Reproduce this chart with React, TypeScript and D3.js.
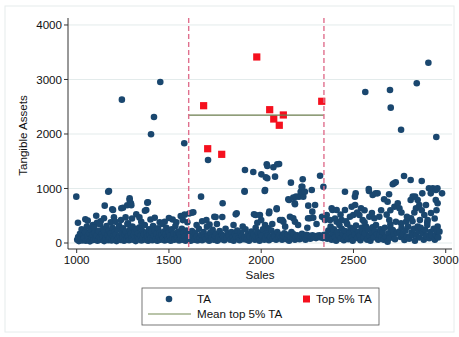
import * as d3 from "d3";
import React from "react";

// TA scatter: [sales, tangible assets]
const taPoints: [number, number][] = [
  // high outliers
  [1245, 2630], [1453, 2954], [1419, 2312], [1403, 1994], [1583, 1829], [1712, 1523],
  [2564, 2771], [2698, 2807], [2702, 2483], [2843, 2930], [2906, 3308], [2758, 2079], [2949, 1945],
  // 1000-1600 upper
  [998, 850], [1171, 941], [1175, 954], [1152, 685], [1193, 618], [1197, 605], [1242, 637], [1251, 648],
  [1287, 789], [1287, 820], [1274, 692], [1296, 692], [1294, 728], [1386, 747], [1383, 740], [1377, 606], [1370, 593],
  // 1000-1600 mid
  [1007, 372], [1047, 435], [1088, 330], [1106, 501], [1148, 453], [1202, 472], [1278, 361], [1323, 526],
  [1423, 464], [1477, 391], [1060, 410], [1130, 400], [1185, 380], [1240, 420], [1300, 450], [1350, 390],
  [1400, 430], [1450, 380], [1520, 430], [1564, 495], [1575, 420], [1540, 380], [1110, 370], [1210, 390],
  [1265, 470], [1340, 470], [1500, 460], [1600, 380], [1585, 520], [1610, 540],
  // 1000-1600 base
  [1003, 60], [1008, 110], [1012, 35], [1018, 170], [1022, 80], [1027, 250], [1031, 45], [1036, 130], [1040, 90],
  [1046, 200], [1050, 40], [1055, 300], [1058, 120], [1063, 70], [1068, 180], [1072, 30], [1077, 240], [1081, 100],
  [1086, 150], [1090, 55], [1095, 280], [1099, 190], [1104, 75], [1108, 130], [1113, 40], [1117, 220], [1122, 95],
  [1126, 340], [1131, 60], [1135, 160], [1140, 110], [1144, 260], [1149, 35], [1153, 190], [1158, 85], [1162, 310],
  [1167, 140], [1171, 50], [1176, 230], [1180, 100], [1185, 170], [1189, 45], [1194, 280], [1198, 120], [1203, 65],
  [1207, 200], [1212, 150], [1216, 35], [1221, 250], [1225, 90], [1230, 320], [1234, 130], [1239, 55], [1243, 190],
  [1248, 100], [1252, 270], [1257, 40], [1261, 160], [1266, 210], [1270, 80], [1275, 350], [1279, 120], [1284, 50],
  [1288, 240], [1293, 170], [1297, 90], [1302, 300], [1306, 60], [1311, 140], [1315, 200], [1320, 35], [1324, 260],
  [1329, 110], [1333, 180], [1338, 70], [1342, 290], [1347, 130], [1351, 45], [1356, 220], [1360, 100], [1365, 160],
  [1369, 330], [1374, 60], [1378, 190], [1383, 120], [1387, 40], [1392, 250], [1396, 150], [1401, 85], [1405, 200],
  [1410, 50], [1414, 310], [1419, 130], [1423, 230], [1428, 70], [1432, 170], [1437, 40], [1441, 270], [1446, 110],
  [1450, 190], [1455, 60], [1459, 140], [1464, 350], [1468, 90], [1473, 210], [1477, 45], [1482, 160], [1486, 280],
  [1491, 100], [1495, 60], [1500, 200], [1505, 130], [1510, 40], [1515, 250], [1520, 95], [1525, 170], [1530, 60],
  [1535, 310], [1540, 140], [1545, 80], [1550, 210], [1555, 45], [1560, 160], [1565, 100], [1570, 260], [1575, 60],
  [1580, 190], [1585, 120], [1590, 40], [1595, 230], [1600, 90],
  // 1600-2350 upper and mid
  [1632, 563], [1623, 556], [1674, 850], [1703, 422], [1746, 483], [1753, 477], [1789, 477], [1791, 728],
  [1862, 526], [1867, 545], [1970, 514], [1961, 526], [1979, 372], [1970, 281], [1993, 514], [2021, 330],
  [2039, 270], [2042, 545], [2044, 575], [2084, 618], [2084, 637], [2102, 422], [2114, 422], [2120, 391],
  [2147, 802], [2151, 789], [2156, 483], [2174, 453], [2174, 832], [2182, 728], [2183, 391], [2183, 710],
  [2189, 850], [2205, 850], [2228, 850], [2219, 1033], [2214, 941], [2223, 1033], [2237, 941], [2255, 685],
  [2263, 453], [2277, 575], [2282, 464], [2292, 697], [2254, 453], [2274, 972], [2161, 1107], [2225, 1169],
  [2319, 1235], [2337, 1033], [1910, 954], [1910, 941], [2019, 954], [2021, 972], [1912, 1339], [1957, 1303],
  [2001, 1260], [2030, 1444], [2066, 1389], [2087, 1444], [2033, 1413], [2097, 1450], [2033, 1187], [2075, 1217],
  [2025, 1205], [1720, 340], [1680, 400], [1850, 330], [1900, 300], [1760, 350], [1650, 330], [2000, 420],
  [2060, 350], [2130, 300], [2200, 330], [2250, 280], [2300, 350], [2330, 480],
  // 1600-2350 base
  [1605, 70], [1612, 150], [1618, 40], [1625, 220], [1630, 100], [1637, 60], [1643, 180], [1650, 120], [1655, 45],
  [1662, 260], [1668, 90], [1675, 150], [1680, 50], [1688, 200], [1694, 110], [1700, 70], [1706, 300], [1712, 140],
  [1718, 40], [1724, 190], [1730, 90], [1737, 240], [1743, 60], [1750, 130], [1756, 170], [1762, 40], [1769, 100],
  [1775, 220], [1781, 70], [1788, 150], [1794, 110], [1800, 50], [1807, 260], [1813, 90], [1820, 180], [1826, 130],
  [1832, 60], [1839, 200], [1845, 100], [1851, 40], [1858, 160], [1864, 120], [1870, 230], [1877, 80], [1883, 50],
  [1890, 190], [1896, 130], [1902, 70], [1909, 100], [1915, 250], [1921, 60], [1928, 160], [1934, 40], [1940, 120],
  [1947, 210], [1953, 90], [1960, 150], [1966, 60], [1972, 120], [1979, 200], [1985, 90], [1991, 40], [1998, 170],
  [2004, 130], [2010, 250], [2017, 60], [2023, 100], [2030, 180], [2036, 140], [2042, 50], [2049, 110], [2055, 230],
  [2062, 80], [2068, 160], [2074, 120], [2081, 60], [2087, 200], [2093, 110], [2100, 150], [2106, 90], [2113, 60],
  [2119, 130], [2125, 180], [2132, 110], [2138, 70], [2144, 150], [2151, 40], [2157, 120], [2164, 200], [2170, 90],
  [2176, 160], [2183, 60], [2189, 110], [2195, 140], [2202, 100], [2208, 70], [2215, 130], [2221, 170], [2227, 90],
  [2234, 120], [2240, 60], [2246, 150], [2253, 100], [2259, 130], [2266, 80], [2272, 110], [2278, 140], [2285, 100],
  [2291, 120], [2297, 90], [2304, 130], [2310, 110], [2316, 140], [2323, 100], [2329, 120], [2335, 90], [2341, 150],
  // 2350-2960 upper and mid
  [2355, 514], [2350, 495], [2346, 422], [2373, 422], [2382, 637], [2386, 606], [2409, 606], [2409, 391],
  [2436, 422], [2454, 606], [2454, 941], [2481, 483], [2490, 666], [2499, 514], [2509, 697], [2508, 850],
  [2512, 911], [2541, 637], [2532, 514], [2583, 991], [2584, 954], [2604, 881], [2620, 911], [2631, 911],
  [2586, 483], [2613, 453], [2640, 483], [2666, 802], [2685, 758], [2693, 894], [2694, 422], [2713, 1077],
  [2720, 1095], [2729, 1113], [2722, 666], [2740, 728], [2749, 637], [2730, 391], [2758, 361], [2774, 1229],
  [2785, 391], [2810, 1156], [2810, 789], [2812, 453], [2821, 850], [2834, 850], [2839, 637], [2848, 789],
  [2857, 697], [2870, 1138], [2873, 911], [2884, 514], [2893, 697], [2902, 422], [2909, 1003], [2919, 911],
  [2930, 1003], [2946, 789], [2947, 973], [2955, 1003], [2956, 728], [2980, 911], [2622, 330], [2568, 300],
  [2848, 300], [2956, 300], [2400, 450], [2430, 520], [2460, 400], [2520, 560], [2550, 420], [2560, 600],
  [2600, 550], [2650, 600], [2680, 520], [2700, 600], [2760, 560], [2790, 480], [2830, 560], [2860, 420],
  [2870, 600], [2920, 550], [2940, 450], [2950, 600], [2560, 380], [2700, 340], [2820, 400], [2900, 380],
  // 2350-2960 base
  [2352, 150], [2358, 80], [2364, 230], [2370, 120], [2376, 300], [2382, 60], [2388, 180], [2394, 250], [2400, 110],
  [2406, 40], [2412, 200], [2418, 140], [2424, 330], [2430, 80], [2436, 260], [2442, 170], [2448, 50], [2454, 220],
  [2460, 120], [2466, 350], [2472, 70], [2478, 190], [2484, 280], [2490, 100], [2496, 40], [2502, 240], [2508, 150],
  [2514, 320], [2520, 90], [2526, 200], [2532, 130], [2538, 50], [2544, 280], [2550, 208], [2556, 100], [2562, 180],
  [2574, 60], [2580, 250], [2586, 130], [2592, 40], [2598, 190], [2604, 290], [2610, 100], [2616, 220], [2628, 160],
  [2634, 60], [2640, 147], [2646, 250], [2652, 100], [2658, 200], [2664, 60], [2670, 280], [2676, 116], [2685, 24],
  [2690, 180], [2696, 90], [2702, 260], [2713, 239], [2719, 150], [2725, 70], [2737, 190], [2749, 208], [2755, 110],
  [2761, 280], [2767, 160], [2776, 55], [2782, 230], [2790, 120], [2796, 300], [2802, 80], [2815, 190], [2821, 147],
  [2827, 260], [2833, 40], [2840, 150], [2852, 220], [2858, 100], [2864, 280], [2875, 178], [2881, 60], [2888, 240],
  [2894, 130], [2900, 330], [2911, 86], [2917, 200], [2923, 140], [2935, 260], [2941, 60], [2947, 147], [2953, 220],
  [2959, 100], [2966, 208],
];

// top 5% TA within the window
const topPoints: [number, number][] = [
  [1688, 2519], [1710, 1730], [1786, 1627], [1976, 3413], [2046, 2446],
  [2068, 2275], [2098, 2160], [2120, 2349], [2328, 2600],
];

const windowBounds = [1607, 2340];
const meanTop = d3.mean(topPoints, (d) => d[1]) as number;

const xTicks = [1000, 1500, 2000, 2500, 3000];
const yTicks = [0, 1000, 2000, 3000, 4000];

const W = 459;
const H = 337;
const plot = { left: 68, right: 452, top: 18, bottom: 249 };

const navy = "#1a476f";
const red = "#f5101e";
const pink = "#e0708e";
const olive = "#6a7d4c";
const font = "'Liberation Sans', Arial, sans-serif";
const fs = 11.6;

export default function App() {
  const x = d3.scaleLinear().domain([953, 3034]).range([plot.left, plot.right]);
  const y = d3.scaleLinear().domain([-110, 4128]).range([plot.bottom, plot.top]);

  return (
    <svg
      width={W}
      height={H}
      style={{ position: "absolute", left: 0, top: 0, background: "#fff" }}
      fontFamily={font}
    >
      <rect x={5} y={6} width={449} height={326} fill="#fff" stroke="#e6ecec" />

      {/* grid */}
      {yTicks.map((t) => (
        <line key={"g" + t} x1={plot.left} x2={plot.right} y1={y(t)} y2={y(t)} stroke="#e3ebeb" strokeWidth={1} />
      ))}

      {/* blue points */}
      {taPoints.map((d, i) => (
        <circle key={"p" + i} cx={x(d[0])} cy={y(d[1])} r={3.3} fill={navy} />
      ))}

      {/* red squares */}
      {topPoints.map((d, i) => (
        <rect key={"s" + i} x={x(d[0]) - 3.6} y={y(d[1]) - 3.6} width={7.2} height={7.2} fill={red} />
      ))}

      {/* mean line */}
      <line x1={x(windowBounds[0])} x2={x(windowBounds[1])} y1={y(meanTop)} y2={y(meanTop)} stroke={olive} strokeWidth={1.2} />

      {/* window bounds */}
      {windowBounds.map((b) => (
        <line key={"w" + b} x1={x(b)} x2={x(b)} y1={plot.top} y2={plot.bottom} stroke={pink} strokeWidth={1.4} strokeDasharray="5,3" />
      ))}

      {/* axes */}
      <line x1={plot.left} x2={plot.left} y1={plot.top} y2={plot.bottom} stroke="#333" />
      <line x1={plot.left} x2={plot.right} y1={plot.bottom} y2={plot.bottom} stroke="#333" />
      {yTicks.map((t) => (
        <g key={"yt" + t}>
          <line x1={plot.left - 4} x2={plot.left} y1={y(t)} y2={y(t)} stroke="#333" />
          <text x={plot.left - 6} y={y(t)} dy="0.35em" textAnchor="end" fontSize={fs} fill="#111">
            {t}
          </text>
        </g>
      ))}
      {xTicks.map((t) => (
        <g key={"xt" + t}>
          <line x1={x(t)} x2={x(t)} y1={plot.bottom} y2={plot.bottom + 4} stroke="#333" />
          <text x={x(t)} y={plot.bottom + 15} textAnchor="middle" fontSize={fs} fill="#111">
            {t}
          </text>
        </g>
      ))}
      <text x={(plot.left + plot.right) / 2} y={279} textAnchor="middle" fontSize={fs} fill="#111">
        Sales
      </text>
      <text transform={`translate(27,${(plot.top + plot.bottom) / 2 + 2}) rotate(-90)`} textAnchor="middle" fontSize={fs} fill="#111">
        Tangible Assets
      </text>

      {/* legend */}
      <rect x={142} y={288} width={237} height={37} fill="#fff" stroke="#555" strokeWidth={0.8} />
      <circle cx={169} cy={299} r={3.3} fill={navy} />
      <text x={197} y={299} dy="0.35em" fontSize={fs} fill="#111">TA</text>
      <rect x={303} y={295.5} width={7} height={7} fill={red} />
      <text x={316} y={299} dy="0.35em" fontSize={fs} fill="#111">Top 5% TA</text>
      <line x1={148} x2={191} y1={314} y2={314} stroke="#a2b08c" strokeWidth={1.6} />
      <text x={197} y={314} dy="0.35em" fontSize={fs} fill="#111">Mean top 5% TA</text>
    </svg>
  );
}
